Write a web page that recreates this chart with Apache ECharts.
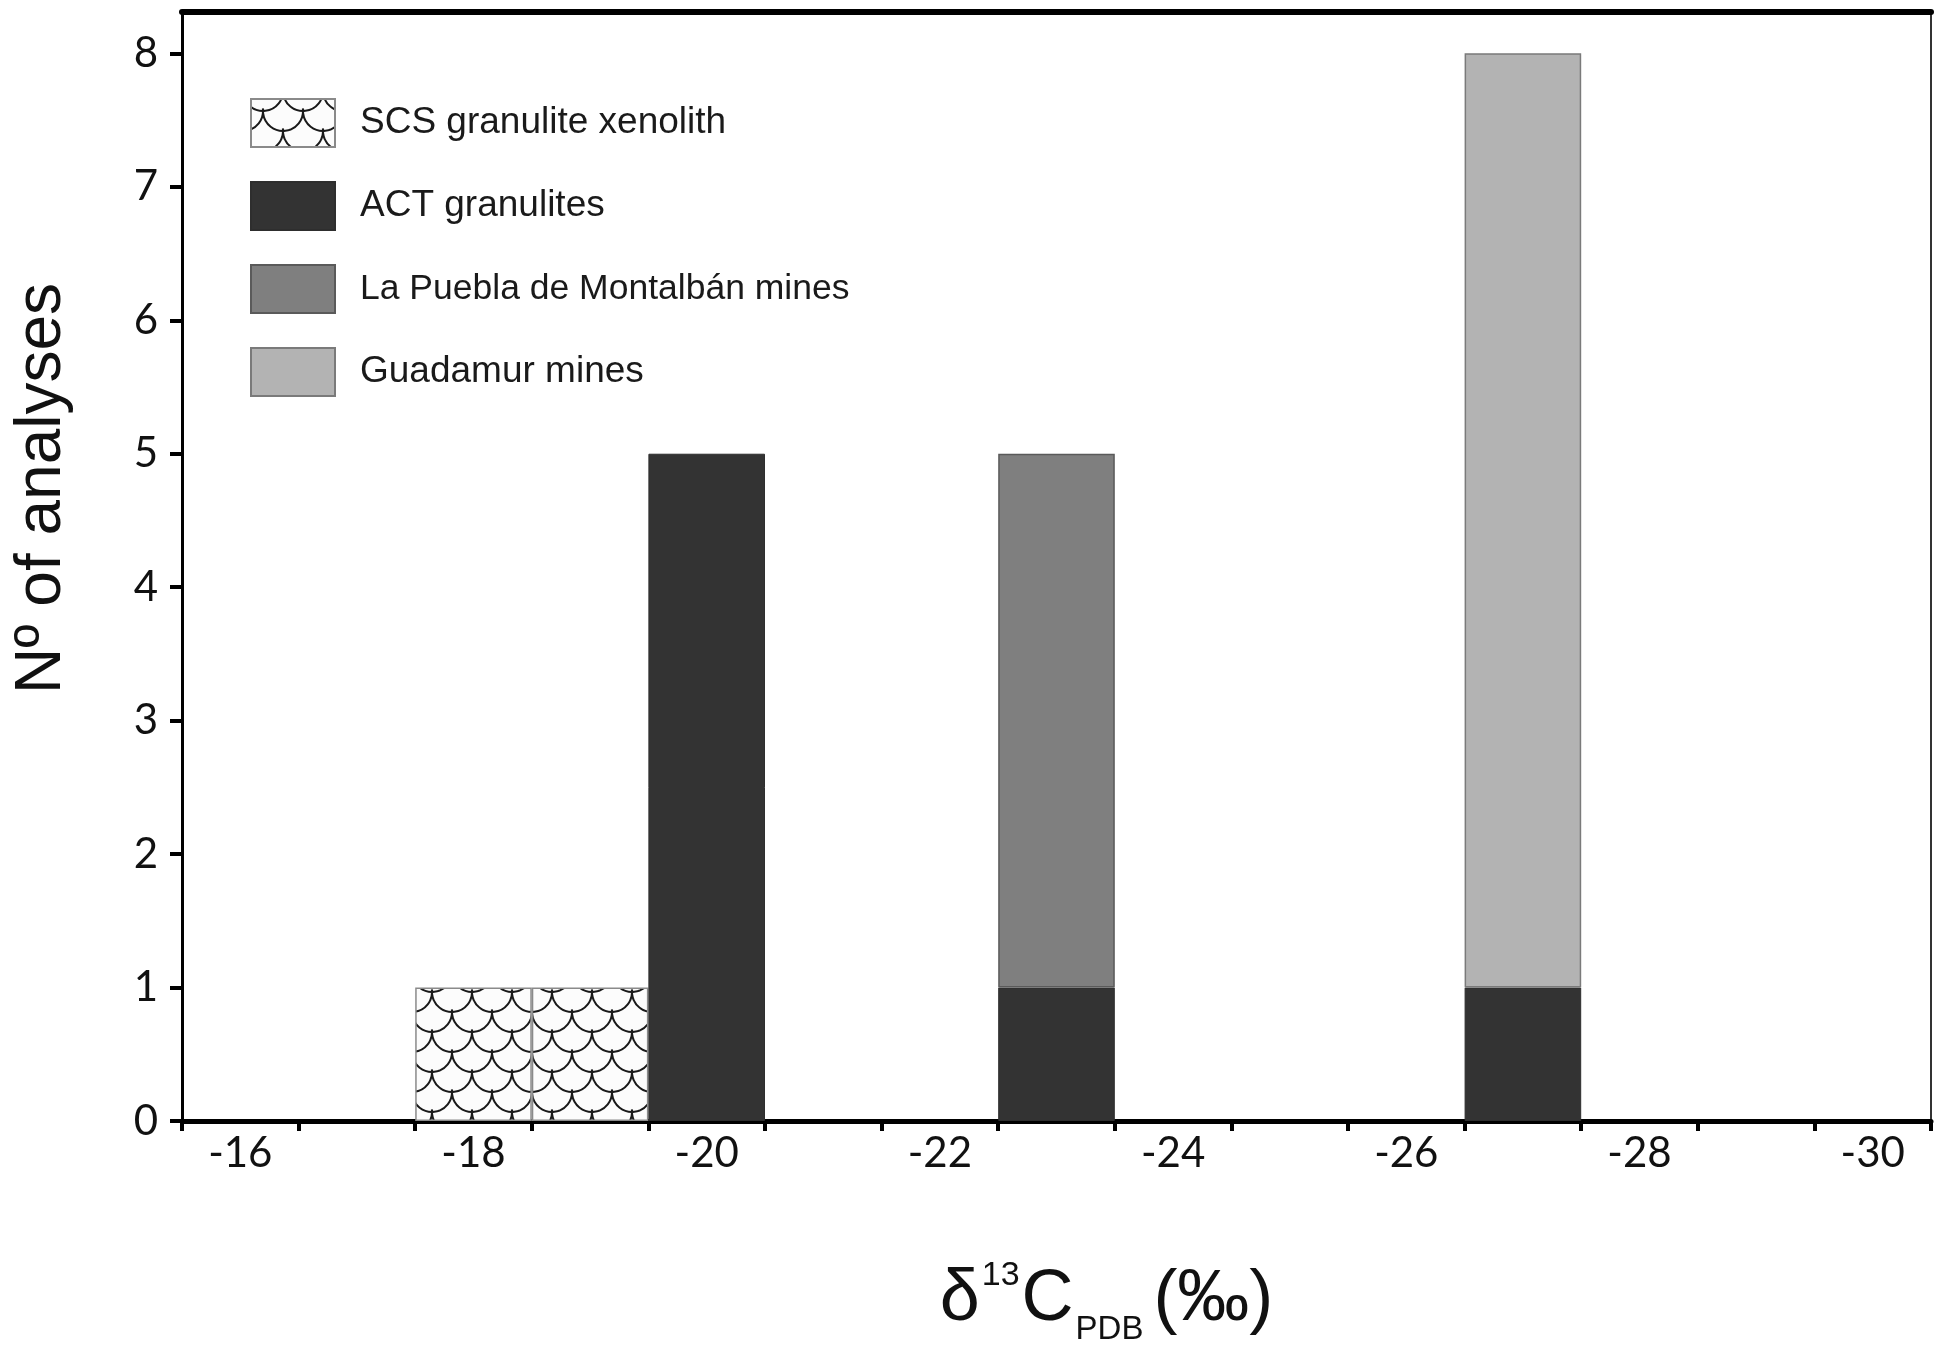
<!DOCTYPE html>
<html>
<head>
<meta charset="utf-8">
<script src="https://cdn.jsdelivr.net/npm/echarts@6/dist/echarts.min.js"></script>
<style>html,body{margin:0;padding:0;background:#fff}#c{width:1934px;height:1351px}</style>
</head>
<body>
<div id="c"></div>
<script>
const categories = ['-16','-17','-18','-19','-20','-21','-22','-23','-24','-25','-26','-27','-28','-29','-30'];
const scsValues = [null,null,1,1,null,null,null,null,null,null,null,null,null,null,null];
const actValues = [null,null,null,null,5,null,null,1,null,null,null,1,null,null,null];
const pueblaValues = [null,null,null,null,null,null,null,4,null,null,null,null,null,null,null];
const guadamurValues = [null,null,null,null,null,null,null,null,null,null,null,7,null,null,null];
const yTicks = [0,1,2,3,4,5,6,7,8];
const seriesNames = ['SCS granulite xenolith','ACT granulites','La Puebla de Montalbán mines','Guadamur mines'];

function scalePattern(){
  const w = 40, h = 40, r = 20;
  const c = document.createElement('canvas');
  c.width = w; c.height = h;
  const ctx = c.getContext('2d');
  ctx.fillStyle = '#fcfcfc';
  ctx.fillRect(0,0,w,h);
  ctx.strokeStyle = '#1a1a1a';
  ctx.lineWidth = 2;
  const rows = [[12, 32], [32, 12]];
  for (const [px, py] of rows) {
    for (let k = -2; k <= 1; k++) {
      for (let m = -2; m <= 1; m++) {
        const x = px + m * 40, y = py + k * 40;
        ctx.beginPath();
        ctx.arc(x, y, r, -0.12, Math.PI + 0.12);
        ctx.stroke();
      }
    }
  }
  return c;
}

const chart = echarts.init(document.getElementById('c'));
const FONT = 'Liberation Sans';
const NUMFONT = 'Lato';
const pattern = scalePattern();

chart.setOption({
  backgroundColor: '#ffffff',
  animation: false,
  grid: { left: 182, right: 3, top: 12, bottom: 226, containLabel: false },
  legend: {
    orient: 'vertical',
    left: 245, top: 93,
    itemWidth: 84, itemHeight: 48, itemGap: 33,
    icon: 'rect',
    data: [
      { name: seriesNames[0] },
      { name: seriesNames[1] },
      { name: seriesNames[2], textStyle: { fontSize: 35.5 } },
      { name: seriesNames[3] }
    ],
    textStyle: { fontFamily: FONT, fontSize: 37, color: '#1a1a1a', padding: [0,0,0,20] }
  },
  xAxis: [{
    type: 'category',
    data: categories,
    boundaryGap: true,
    position: 'bottom',
    axisLine: { show: true, onZero: false, lineStyle: { color: '#000', width: 5 } },
    axisTick: { show: true, interval: 0, length: 10, lineStyle: { color: '#000', width: 4 } },
    axisLabel: { interval: 1, fontFamily: NUMFONT, fontSize: 42, color: '#111', margin: 11 },
    splitLine: { show: false },
    name: '{d|δ}{sup|13}{c|C}{sub|PDB}{p|(‰)}',
    nameLocation: 'middle',
    nameGap: 124,
    nameTextStyle: {
      fontFamily: FONT, fontSize: 72, color: '#111', padding: [0,0,0,100],
      rich: {
        d: { fontFamily: FONT, fontSize: 72, color: '#111', lineHeight: 110 },
        sup: { fontFamily: FONT, fontSize: 34, color: '#111', verticalAlign: 'top', lineHeight: 34, padding: [14,2,0,2] },
        c: { fontFamily: FONT, fontSize: 72, color: '#111', lineHeight: 110 },
        sub: { fontFamily: FONT, fontSize: 33, color: '#111', verticalAlign: 'top', lineHeight: 34, padding: [68,0,0,2] },
        p: { fontFamily: FONT, fontSize: 72, color: '#111', lineHeight: 110, padding: [0,0,0,10] }
      }
    }
  }, {
    type: 'category',
    data: categories,
    position: 'top',
    axisLine: { show: true, onZero: false, lineStyle: { color: '#000', width: 6 } },
    axisTick: { show: false },
    axisLabel: { show: false }
  }],
  yAxis: [{
    type: 'value',
    min: 0, max: 8.31,
    interval: 1,
    axisLine: { show: true, onZero: false, lineStyle: { color: '#000', width: 3 } },
    axisTick: { show: true, customValues: yTicks, length: 12, lineStyle: { color: '#000', width: 4 } },
    axisLabel: { customValues: yTicks, fontFamily: NUMFONT, fontSize: 42, color: '#111', margin: 24 },
    splitLine: { show: false },
    name: 'Nº of analyses',
    nameLocation: 'middle',
    nameRotate: 90,
    nameGap: 108,
    nameTextStyle: { fontFamily: FONT, fontSize: 64, color: '#111', padding: [0,0,0,156] }
  }, {
    type: 'value',
    position: 'right',
    min: 0, max: 8.31,
    axisLine: { show: true, onZero: false, lineStyle: { color: '#333', width: 2 } },
    axisTick: { show: false },
    axisLabel: { show: false },
    splitLine: { show: false }
  }],
  series: [{
    name: seriesNames[0], type: 'bar', stack: 'n', data: scsValues,
    barCategoryGap: '0%',
    itemStyle: { color: { image: pattern, repeat: 'repeat' }, borderColor: '#8a8a8a', borderWidth: 1.5 }
  }, {
    name: seriesNames[1], type: 'bar', stack: 'n', data: actValues,
    barCategoryGap: '0%',
    itemStyle: { color: '#333333', borderColor: '#2e2e2e', borderWidth: 1 }
  }, {
    name: seriesNames[2], type: 'bar', stack: 'n', data: pueblaValues,
    barCategoryGap: '0%',
    itemStyle: { color: '#7f7f7f', borderColor: '#5a5a5a', borderWidth: 1.5 }
  }, {
    name: seriesNames[3], type: 'bar', stack: 'n', data: guadamurValues,
    barCategoryGap: '0%',
    itemStyle: { color: '#b3b3b3', borderColor: '#7a7a7a', borderWidth: 1.5 }
  }]
});
</script>
</body>
</html>
